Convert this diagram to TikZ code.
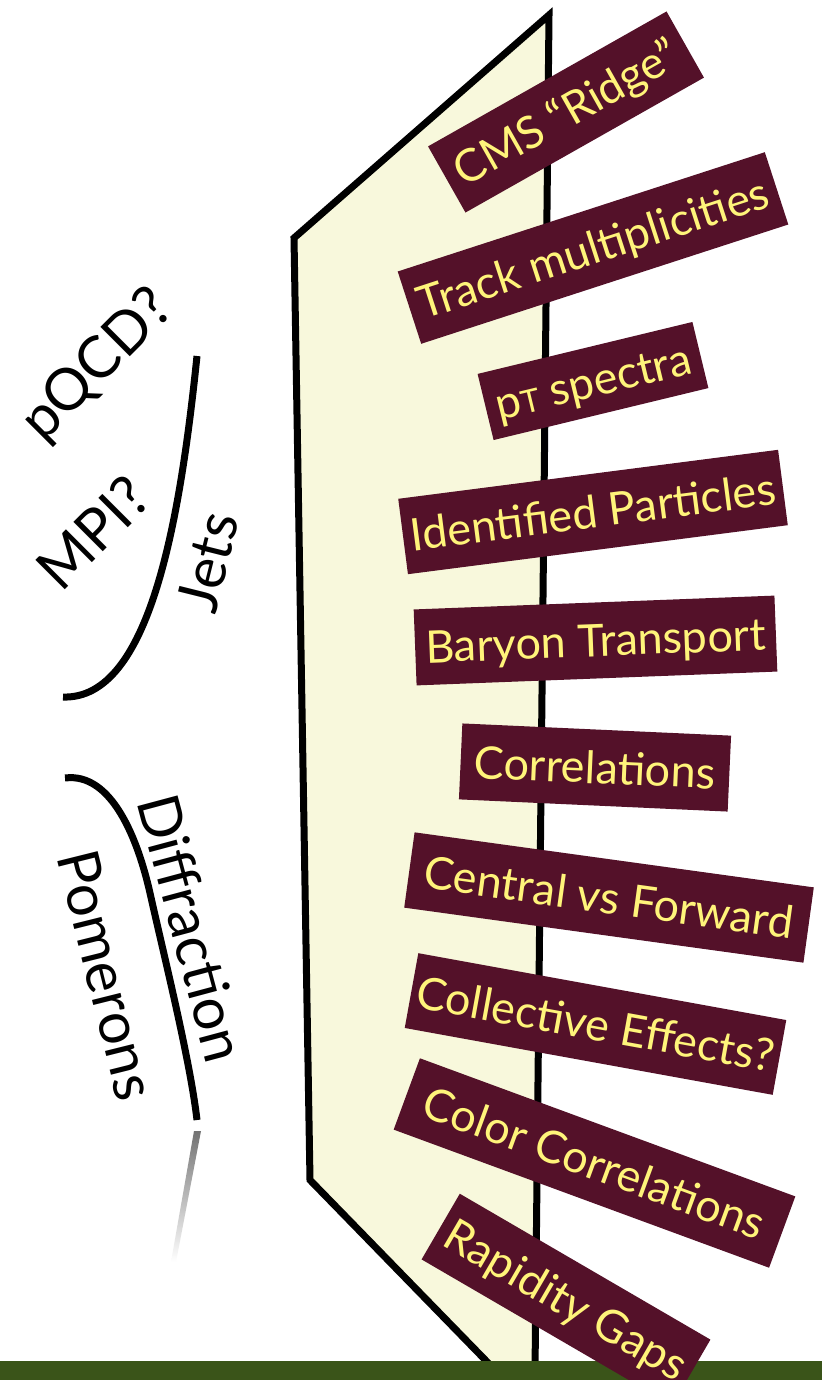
\documentclass[tikz,border=0pt]{standalone}
\usepackage{fontspec}
\setmainfont{Lato}
\definecolor{tagRed}{HTML}{541129}
\definecolor{tagText}{HTML}{FFF47A}
\definecolor{panelCream}{HTML}{F8F8DC}
\definecolor{barGreen}{HTML}{3A5419}
\begin{document}
\begin{tikzpicture}[x=1pt,y=-1pt,
  tag/.style={fill=tagRed,text=tagText,inner sep=0pt,minimum height=76pt,
    font=\fontsize{45}{45}\selectfont,text height=32pt,text depth=0pt,anchor=center},
  side/.style={font=\fontsize{58}{58}\selectfont,inner sep=0pt,text=black},
  bracket/.style={line width=7pt,line cap=butt}]
\useasboundingbox (0,0) rectangle (822,1380);
\fill[white] (0,0) rectangle (822,1380);
% panel
\draw[line width=7pt,fill=panelCream,line join=miter]
  (549,15) -- (294,238) -- (310,1180) -- (497,1372) -- (535,1372) -- cycle;
% bottom bar
\fill[barGreen] (0,1361) rectangle (822,1380);
% tags
\node[tag,minimum width=274pt,rotate=29.5] (ridge) at (566,112) {CMS “Ridge”};
\node[tag,minimum width=386pt,rotate=18] (track) at (593,248) {Track multiplicities};
\node[tag,minimum width=221pt,minimum height=68pt,rotate=13.6] (pt) at (593,381) {p{\fontsize{32}{32}\selectfont T} spectra};
\node[tag,minimum width=383pt,rotate=7.35] (ident) at (593,512) {Identified Particles};
\node[tag,minimum width=361pt,rotate=2.2] (baryon) at (595.5,640.5) {Baryon Transport};
\node[tag,minimum width=269pt,rotate=-2.6] (corr) at (595,767.5) {Correlations};
\node[tag,minimum width=403pt,rotate=-7.85] (cvf) at (609,897.5) {Central vs Forward};
\node[tag,minimum width=374pt,rotate=-10.3] (coll) at (595.5,1024) {Collective Effects?};
\node[tag,minimum width=400pt,rotate=-20.2] (color) at (594.5,1163) {Color Correlations};
\node[tag,minimum width=290pt,rotate=-30.2] (rap) at (566,1299.5) {Rapidity Gaps};
% side labels
\node[side,rotate=45] (pqcd) at (98,366) {pQCD?};
\node[side,rotate=45] (mpi) at (93,533) {MPI?};
\node[side,rotate=76] (jets) at (208,562) {Jets};
\node[side,rotate=-75] (diff) at (192,928) {Diffraction};
\node[side,rotate=-76] (pom) at (107,975) {Pomerons};
% brackets
\draw[bracket] (197,356) .. controls (180,520) and (150,700) .. (63,697);
\draw[bracket] (65,778) .. controls (112,772) and (138,840) .. (150,893)
  .. controls (165,960) and (190,1060) .. (197,1120);
\shade[top color=black!55,bottom color=white]
  (194,1131) -- (201,1131) -- (176,1262) -- (171,1262) -- cycle;
\end{tikzpicture}
\end{document}
